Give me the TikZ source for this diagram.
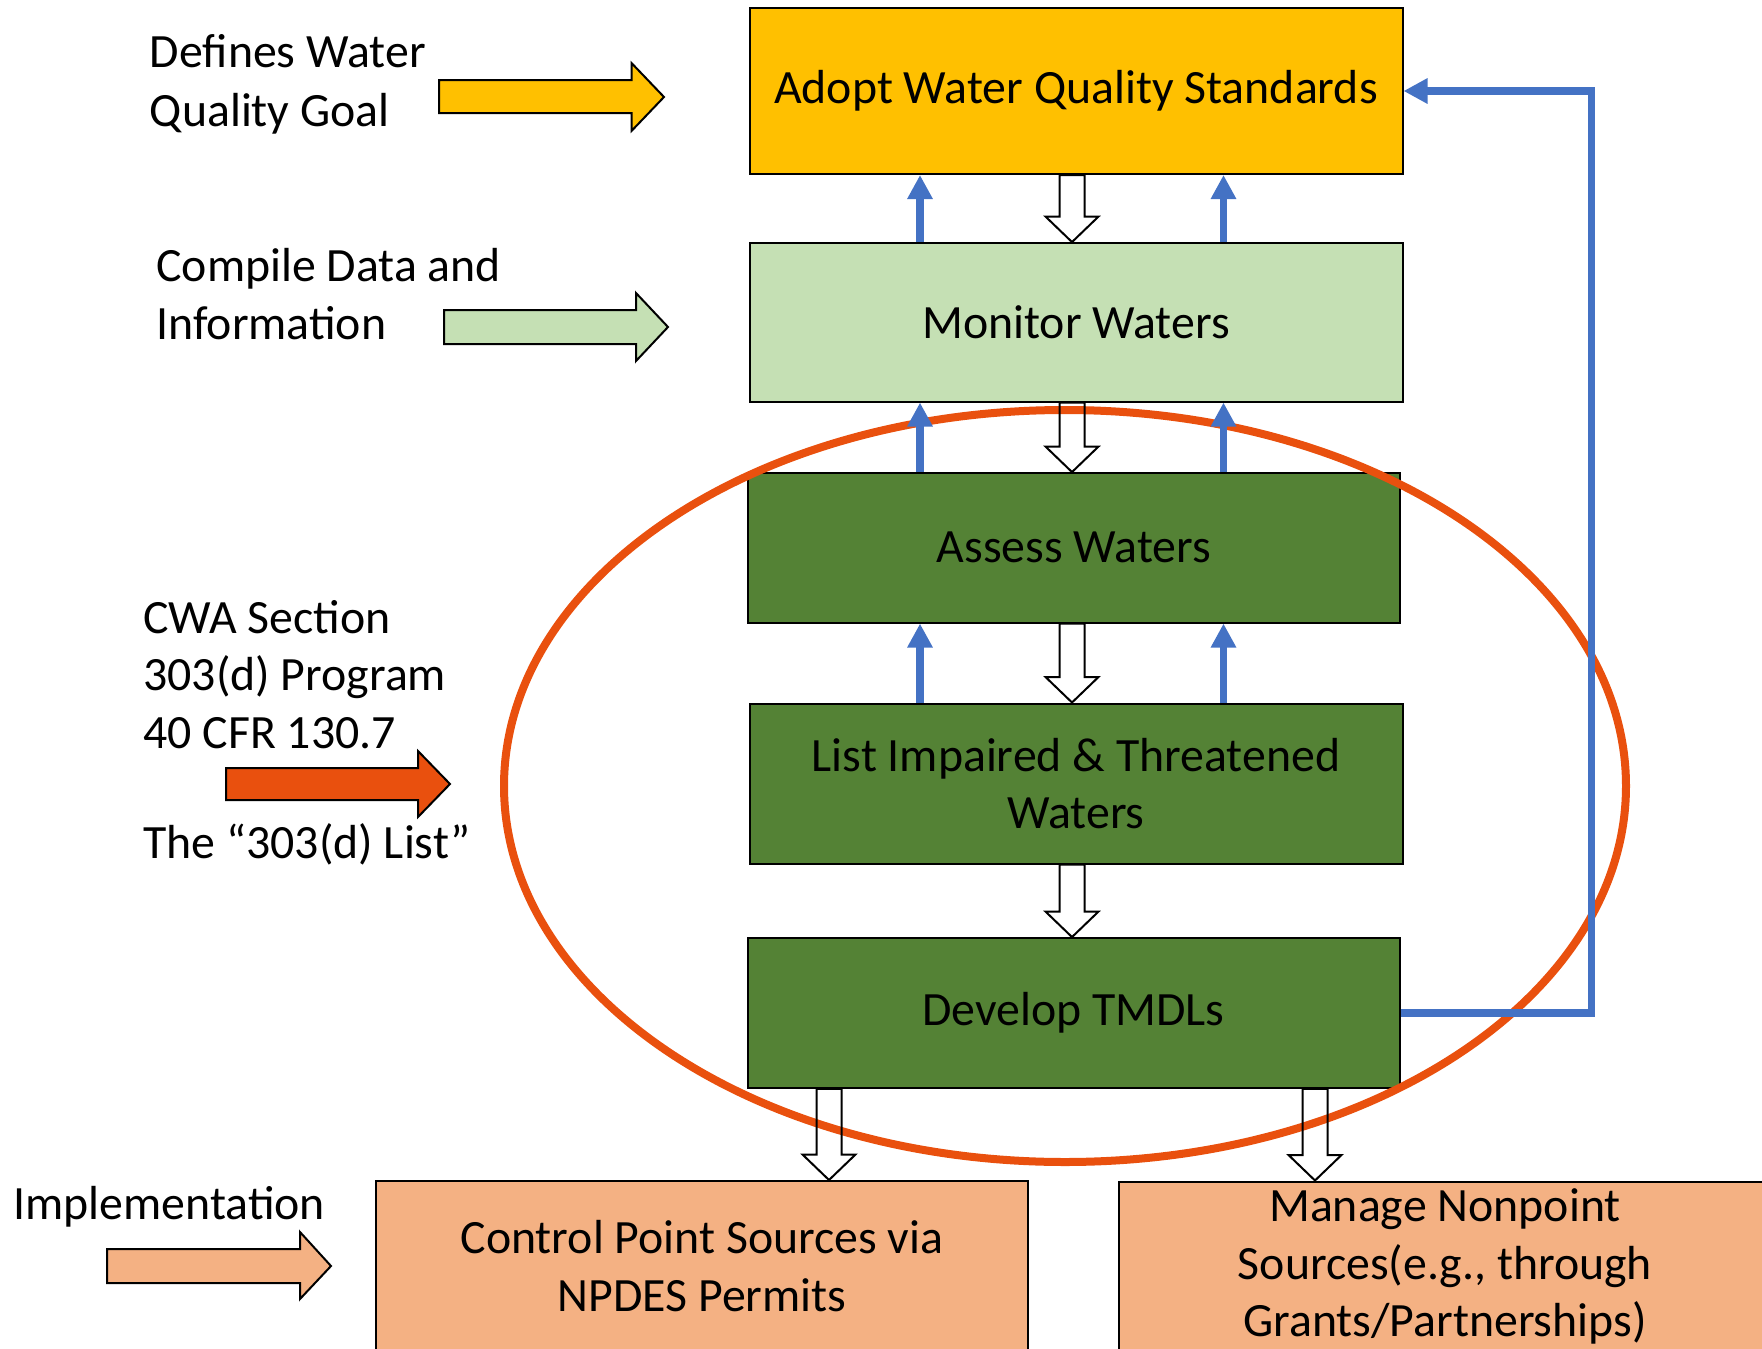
\documentclass[tikz,border=0pt]{standalone}
\usepackage{fontspec}
\setmainfont{Carlito}
\usetikzlibrary{arrows.meta,calc}
\definecolor{cYellow}{HTML}{FFC000}
\definecolor{cLight}{HTML}{C5E0B4}
\definecolor{cDark}{HTML}{548235}
\definecolor{cSalmon}{HTML}{F4B183}
\definecolor{cOrange}{HTML}{E9500E}
\definecolor{cBlue}{HTML}{4472C4}
% hollow block arrow pointing down: #1 start, #2 tip
\newcommand\hollowdown[2]{%
  \path[hollow] let \p1=(#1), \p2=(#2) in
    (\x1-6.25pt,\y1) -- (\x1-6.25pt,\y2+12.75pt) -- (\x1-13.25pt,\y2+12.75pt)
    -- (\x1,\y2) -- (\x1+13.25pt,\y2+12.75pt) -- (\x1+6.25pt,\y2+12.75pt)
    -- (\x1+6.25pt,\y1) -- cycle;}
\begin{document}
\begin{tikzpicture}[x=0.5pt,y=-0.5pt,
  txt/.style={font=\fontsize{23.9}{28.75}\selectfont},
  box/.style={txt, draw=black, line width=1pt, inner sep=0pt, align=center},
  lbl/.style={txt, anchor=base west, inner sep=0pt},
  bluearrow/.style={draw=cBlue, line width=3.6pt, -{Triangle[length=12pt,width=12pt]}},
  hollow/.style={draw=black, line width=1pt, line join=miter},
  blockarrow/.style={draw=black, line width=1pt, line join=miter},
]
\useasboundingbox (0,0) rectangle (1762,1349);
\clip (0,0) rectangle (1762,1349);

% ---- main boxes
\node[box, fill=cYellow, minimum width=326.5pt, minimum height=83pt] (adopt) at (1076,91) {Adopt Water Quality Standards};
\node[box, fill=cLight, minimum width=326.5pt, minimum height=79.25pt] (monitor) at (1076,322.3) {Monitor Waters};
\node[box, fill=cDark, minimum width=326pt, minimum height=74.75pt] (assess) at (1074,547.8) {Assess Waters};
\node[box, fill=cDark, minimum width=326.5pt, minimum height=80pt] (list) at (1076,783.5) {List Impaired \& Threatened\\Waters};
\node[box, fill=cDark, minimum width=326pt, minimum height=74.85pt] (develop) at (1073.5,1012.9) {Develop TMDLs};
\node[box, fill=cSalmon, minimum width=326.25pt, minimum height=85pt] (control) at (702,1266) {Control Point Sources via\\NPDES Permits};
\node[box, fill=cSalmon, minimum width=326.25pt, minimum height=85pt] (manage) at (1445,1266.5) {Manage Nonpoint\\Sources(e.g., through\\Grants/Partnerships)};

% ---- red ellipse
\draw[cOrange, line width=4pt] (1065,786) ellipse [x radius=280.5pt, y radius=188pt];

% ---- left labels
\node[lbl] (t1a) at (149.5,67) {Defines Water};
\node[lbl] (t1b) at (149.5,126) {Quality Goal};
\node[lbl] (t2a) at (156,281) {Compile Data and};
\node[lbl] (t2b) at (156,339.5) {Information};
\node[lbl] (t3a) at (143,633) {CWA Section};
\node[lbl] (t3b) at (143,690.5) {303(d) Program};
\node[lbl] (t3c) at (143,748) {40 CFR 130.7};
\node[lbl] (t3d) at (143,858) {The “303(d) List”};
\node[lbl] (t4) at (13,1219) {Implementation};

% ---- left block arrows
\draw[blockarrow, fill=cYellow] (439,80) -- (631.5,80) -- (631.5,63) -- (664,97) -- (631.5,131) -- (631.5,113) -- (439,113) -- cycle;
\draw[blockarrow, fill=cLight] (444,310) -- (636,310) -- (636,293) -- (668,327) -- (636,361) -- (636,344) -- (444,344) -- cycle;
\draw[blockarrow, fill=cOrange] (226,768) -- (418,768) -- (418,751) -- (450,784) -- (418,817) -- (418,800) -- (226,800) -- cycle;
\draw[blockarrow, fill=cSalmon] (107,1249) -- (300,1249) -- (300,1232) -- (331,1266) -- (300,1299) -- (300,1283) -- (107,1283) -- cycle;

% ---- blue upward arrows
\coordinate (bl) at (920,0);
\coordinate (br) at (1223.5,0);
\draw[bluearrow] (bl |- monitor.north) -- (bl |- adopt.south);
\draw[bluearrow] (br |- monitor.north) -- (br |- adopt.south);
\draw[bluearrow] (bl |- assess.north) -- (bl |- monitor.south);
\draw[bluearrow] (br |- assess.north) -- (br |- monitor.south);
\draw[bluearrow] (bl |- list.north) -- (bl |- assess.south);
\draw[bluearrow] (br |- list.north) -- (br |- assess.south);

% ---- feedback loop
\coordinate (fb) at (1591.5,0);
\draw[bluearrow, line join=miter] (develop.east) -| (fb |- adopt.east) -- (adopt.east);

% ---- hollow downward arrows
\coordinate (hx) at (1072,0);
\coordinate (hl) at (829,0);
\coordinate (hr) at (1315,0);
\hollowdown{hx |- adopt.south}{hx |- monitor.north}
\hollowdown{hx |- monitor.south}{hx |- assess.north}
\hollowdown{hx |- assess.south}{hx |- list.north}
\hollowdown{hx |- list.south}{hx |- develop.north}
\hollowdown{hl |- develop.south}{hl |- control.north}
\hollowdown{hr |- develop.south}{hr |- manage.north}
\end{tikzpicture}
\end{document}
